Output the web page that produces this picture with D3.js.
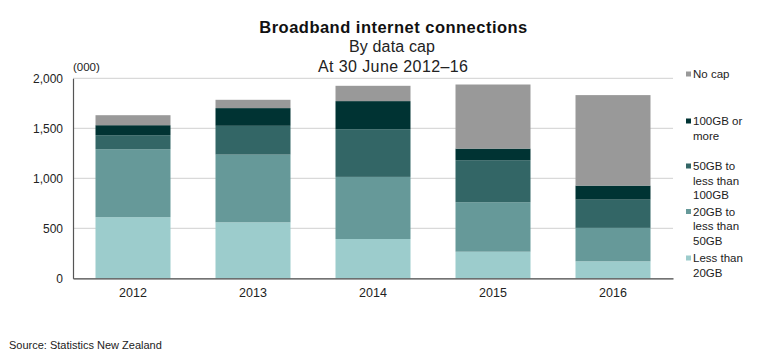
<!DOCTYPE html>
<html><head><meta charset="utf-8">
<script src="https://cdn.jsdelivr.net/npm/d3@7"></script>
<style>body{margin:0;background:#fff}svg{display:block;font-family:"Liberation Sans",Arial,sans-serif}</style>
</head><body><svg id="c" width="768" height="359"></svg>
<script>
const years = ["2012","2013","2014","2015","2016"];
const seriesNames = ["Less than 20GB","20GB to less than 50GB","50GB to less than 100GB","100GB or more","No cap"];
const lessThan20 = [611, 560, 393, 266, 170];
const from20to50 = [680, 677, 621, 495, 334];
const from50to100 = [140, 288, 477, 420, 283];
const over100 = [100, 177, 281, 116, 140];
const noCap = [100, 83, 153, 641, 905];
const yTicks = [0, 500, 1000, 1500, 2000];
const legendLabels = [["No cap"],["100GB or","more"],["50GB to","less than","100GB"],["20GB to","less than","50GB"],["Less than","20GB"]];
const colors = ["#9ccccc","#669999","#336666","#003333","#999999"];

const svg = d3.select("#c");
const m = {l:73, r:673, t:78.3, b:278.3};
const x = d3.scaleBand().domain(years).range([m.l, m.r]).paddingInner(0.375).paddingOuter(0.1875);
const y = d3.scaleLinear().domain([0,2000]).range([m.b, m.t]);

const seriesVals = [lessThan20, from20to50, from50to100, over100, noCap];
const rows = years.map((yr,i)=>{const o={year:yr}; seriesNames.forEach((s,k)=>o[s]=seriesVals[k][i]); return o;});
const stack = d3.stack().keys(seriesNames)(rows);

// gridlines
svg.append("g").selectAll("line").data(yTicks.filter(d=>d>0)).join("line")
  .attr("x1", m.l).attr("x2", m.r).attr("y1", d=>y(d)).attr("y2", d=>y(d))
  .attr("stroke","#d9d9d9").attr("stroke-width",1.2);

// bars
svg.append("g").selectAll("g").data(stack).join("g").attr("fill",(d,i)=>colors[i])
  .selectAll("rect").data(d=>d).join("rect")
  .attr("x", d=>x(d.data.year)).attr("width", x.bandwidth())
  .attr("y", d=>y(d[1])).attr("height", d=>y(d[0])-y(d[1]));

// y axis
const ya = svg.append("g").attr("transform",`translate(${m.l},0)`)
  .call(d3.axisLeft(y).tickValues(yTicks).tickFormat(d3.format(",")).tickSize(0).tickPadding(10));
ya.select(".domain").attr("stroke","#555").attr("stroke-width",1.2);
ya.selectAll("text").attr("font-size",12).attr("fill","#222").attr("font-family","Liberation Sans, Arial, sans-serif");

// x axis
const xa = svg.append("g").attr("transform",`translate(0,${m.b})`)
  .call(d3.axisBottom(x).tickSize(0).tickPadding(10));
xa.select(".domain").attr("stroke","#444").attr("stroke-width",1.3);
xa.selectAll("text").attr("font-size",12.5).attr("fill","#222").attr("font-family","Liberation Sans, Arial, sans-serif");

// unit label
svg.append("text").attr("x",73).attr("y",71).attr("font-size",11.5).attr("fill","#222").text("(000)");

// titles
svg.append("text").attr("x",393.3).attr("y",33.3).attr("text-anchor","middle").attr("font-size",16.5).attr("font-weight","bold").attr("fill","#111")
  .attr("textLength",268).attr("lengthAdjust","spacing").text("Broadband internet connections");
svg.append("text").attr("x",392).attr("y",52.3).attr("text-anchor","middle").attr("font-size",16).attr("fill","#222")
  .attr("textLength",86).attr("lengthAdjust","spacing").text("By data cap");
svg.append("text").attr("x",393).attr("y",72).attr("text-anchor","middle").attr("font-size",16).attr("fill","#222")
  .attr("textLength",150).attr("lengthAdjust","spacing").text("At 30 June 2012\u201316");

// legend
const legTop = [74, 121, 166, 211.5, 258];
const legColors = [colors[4],colors[3],colors[2],colors[1],colors[0]];
legendLabels.forEach((lines,i)=>{
  svg.append("rect").attr("x",686).attr("y",legTop[i]-2.5).attr("width",5).attr("height",5).attr("fill",legColors[i]);
  const t = svg.append("text").attr("x",693).attr("y",legTop[i]+4).attr("font-size",11.5).attr("fill","#222");
  lines.forEach((ln,j)=>t.append("tspan").attr("x",693).attr("dy", j===0?0:14.5).text(ln));
});

// source
svg.append("text").attr("x",9).attr("y",349).attr("font-size",11).attr("fill","#222").text("Source: Statistics New Zealand");
</script></body></html>
